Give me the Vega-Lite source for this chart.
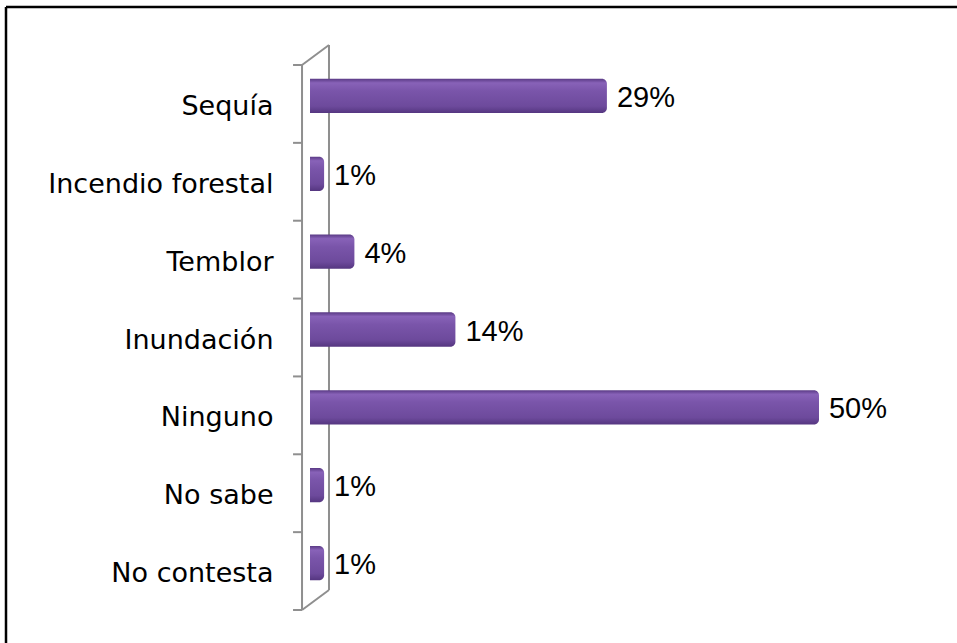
{
  "$schema": "https://vega.github.io/schema/vega-lite/v6.json",
  "width": 951,
  "height": 636,
  "padding": {"left": 6, "top": 7, "right": 0, "bottom": 0},
  "autosize": {"type": "none"},
  "background": "white",
  "config": {"view": {"stroke": null}},
  "datasets": {
    "bars": [
      {"categoria": "Sequía", "valor": 0.29},
      {"categoria": "Incendio forestal", "valor": 0.01},
      {"categoria": "Temblor", "valor": 0.04},
      {"categoria": "Inundación", "valor": 0.14},
      {"categoria": "Ninguno", "valor": 0.50},
      {"categoria": "No sabe", "valor": 0.01},
      {"categoria": "No contesta", "valor": 0.01}
    ],
    "wall": [
      {"x": -0.0079, "x2": -0.0079, "y": 0, "y2": 7},
      {"x": 0.0188, "x2": 0.0188, "y": -0.257, "y2": 6.743},
      {"x": -0.0079, "x2": 0.0188, "y": 0, "y2": -0.257},
      {"x": -0.0079, "x2": 0.0188, "y": 7, "y2": 6.743},
      {"x": -0.0168, "x2": -0.0079, "y": 0, "y2": 0},
      {"x": -0.0168, "x2": -0.0079, "y": 1, "y2": 1},
      {"x": -0.0168, "x2": -0.0079, "y": 2, "y2": 2},
      {"x": -0.0168, "x2": -0.0079, "y": 3, "y2": 3},
      {"x": -0.0168, "x2": -0.0079, "y": 4, "y2": 4},
      {"x": -0.0168, "x2": -0.0079, "y": 5, "y2": 5},
      {"x": -0.0168, "x2": -0.0079, "y": 6, "y2": 6},
      {"x": -0.0168, "x2": -0.0079, "y": 7, "y2": 7}
    ]
  },
  "layer": [
    {
      "layer": [
        {
          "data": {"name": "wall"},
          "mark": {"type": "rule", "color": "#8f8f8f", "strokeWidth": 2},
          "encoding": {
            "x": {"field": "x", "type": "quantitative", "scale": {"domain": [-0.301, 0.6406], "nice": false, "zero": false}, "axis": null},
            "x2": {"field": "x2"},
            "y": {"field": "y", "type": "quantitative", "scale": {"domain": [0, 7], "range": [58, 603], "nice": false, "zero": false}, "axis": null},
            "y2": {"field": "y2"}
          }
        },
        {
          "data": {"values": [{}]},
          "mark": {"type": "rule", "color": "#000000", "strokeWidth": 2.5},
          "encoding": {
            "y": {"datum": -0.745, "type": "quantitative", "axis": null}
          }
        },
        {
          "data": {"values": [{}]},
          "mark": {"type": "rule", "color": "#000000", "strokeWidth": 2.5},
          "encoding": {
            "x": {"datum": -0.301, "type": "quantitative", "axis": null}
          }
        }
      ]
    },
    {
      "data": {"name": "bars"},
      "layer": [
        {
          "mark": {
            "type": "bar",
            "height": {"band": 0.44},
            "yOffset": -8,
            "xOffset": 4,
            "x2Offset": 0,
            "cornerRadiusTopRight": 5,
            "cornerRadiusBottomRight": 5,
            "color": {
              "gradient": "linear",
              "x1": 0, "y1": 0, "x2": 0, "y2": 1,
              "stops": [
                {"offset": 0, "color": "#5a3a85"},
                {"offset": 0.12, "color": "#8862b8"},
                {"offset": 0.35, "color": "#7a55aa"},
                {"offset": 0.8, "color": "#6d4a9c"},
                {"offset": 1, "color": "#553680"}
              ]
            }
          },
          "encoding": {
            "y": {
              "field": "categoria", "type": "nominal", "sort": null,
              "scale": {"range": [58, 603], "paddingInner": 0, "paddingOuter": 0},
              "axis": {
                "title": null, "domain": false, "ticks": false,
                "offset": -273, "labelPadding": 6, "labelOffset": 3,
                "labelFont": "DejaVu Sans", "labelFontSize": 27,
                "labelColor": "#000000", "labelLimit": 400
              }
            },
            "x": {"field": "valor", "type": "quantitative", "axis": null},
            "x2": {"datum": 0}
          }
        },
        {
          "mark": {
            "type": "text", "align": "left", "baseline": "middle",
            "dx": 14, "dy": -6,
            "font": "Liberation Sans", "fontSize": 29, "color": "#000000"
          },
          "encoding": {
            "y": {"field": "categoria", "type": "nominal", "sort": null},
            "x": {"field": "valor", "type": "quantitative", "axis": null},
            "text": {"field": "valor", "type": "quantitative", "format": ".0%"}
          }
        }
      ]
    }
  ],
  "resolve": {"scale": {"y": "independent"}, "axis": {"y": "independent"}}
}
